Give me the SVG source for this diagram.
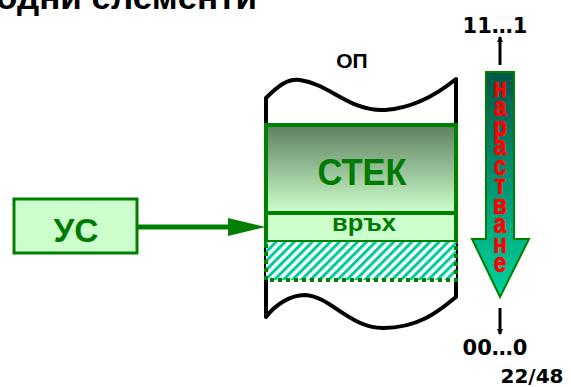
<svg xmlns="http://www.w3.org/2000/svg" width="571" height="387" viewBox="0 0 571 387">
<style>
.lbl{font-family:"DejaVu Sans",Verdana,sans-serif;font-weight:bold;fill:#000}
.gt{font-family:"Liberation Sans",Arial,sans-serif;font-weight:bold;fill:#007a00;text-anchor:middle}
.rt{font-family:"Liberation Sans",Arial,sans-serif;font-weight:bold;fill:#ff0000;stroke:#ff0000;stroke-width:0.7;text-anchor:middle;font-size:28px}
.gbox{stroke:#008000;stroke-width:4}
</style>
<defs>
<linearGradient id="stackGrad" x1="0" y1="0" x2="0" y2="1">
<stop offset="0" stop-color="#5f7f5f"/>
<stop offset="1" stop-color="#ccffcc"/>
</linearGradient>
<linearGradient id="arrGrad" x1="0" y1="0" x2="0" y2="1">
<stop offset="0" stop-color="#00574a"/>
<stop offset="1" stop-color="#00d49c"/>
</linearGradient>
<pattern id="hatch" patternUnits="userSpaceOnUse" width="6.4" height="6.4" patternTransform="rotate(45)">
<rect width="6.4" height="6.4" fill="#fff"/>
<rect width="3" height="6.4" fill="#00cc99"/>
</pattern>
<marker id="blk" markerWidth="6" markerHeight="6" refX="5" refY="3" orient="auto" markerUnits="userSpaceOnUse">
<path d="M0,0 L6,3 L0,6 Z" fill="#000"/>
</marker>
</defs>
<rect width="571" height="387" fill="#fff"/>
<text x="-4" y="9" font-family="Liberation Sans,Arial,sans-serif" font-weight="bold" font-size="35" fill="#000">одни елементи</text>

<g id="memory">
<path d="M266,317 L266,98 C278,86 288,78 300,80 C330,84 350,112 385,110 C415,108 440,92 456,79 L456,297 C440,310 420,328 383,328 C350,328 330,296 305,295 C290,295 275,305 266,317 Z" fill="#fff" stroke="#000" stroke-width="4" stroke-linejoin="round"/>
<text x="352" y="68" font-family="Liberation Sans,Arial,sans-serif" font-weight="bold" font-size="21" text-anchor="middle" fill="#000">ОП</text>
</g>

<g id="stack">
<rect class="gbox" x="266" y="125" width="190" height="88" fill="url(#stackGrad)"/>
<text class="gt" x="362" y="185" font-size="37" textLength="89" lengthAdjust="spacingAndGlyphs">СТЕК</text>
</g>

<g id="top">
<rect class="gbox" x="266" y="213" width="190" height="29" fill="#ccffcc"/>
<text class="gt" x="364" y="231" font-size="23" textLength="64" lengthAdjust="spacingAndGlyphs">връх</text>
</g>

<g id="free">
<rect x="266" y="242" width="190" height="38" fill="url(#hatch)"/>
<path d="M266,244 L266,280 L456,280 L456,244" fill="none" stroke="#008000" stroke-width="4" stroke-dasharray="4 4"/>
</g>

<g id="us">
<rect x="14" y="199" width="123" height="54" fill="#ccffcc" stroke="#008000" stroke-width="3"/>
<text class="gt" x="76" y="242" font-size="33" textLength="45" lengthAdjust="spacingAndGlyphs">УС</text>
</g>

<g id="growth">
<path d="M486,72 L514,72 L514,239 L529,239 L500,297 L472,239 L486,239 Z" fill="url(#arrGrad)" stroke="#008000" stroke-width="2"/>
<g transform="translate(500,0) scale(0.8,1)">
<text class="rt" x="0" y="97">н</text>
<text class="rt" x="0" y="116.5">а</text>
<text class="rt" x="0" y="136">р</text>
<text class="rt" x="0" y="155.5">а</text>
<text class="rt" x="0" y="175">с</text>
<text class="rt" x="0" y="194.5">т</text>
<text class="rt" x="0" y="214">в</text>
<text class="rt" x="0" y="233.5">а</text>
<text class="rt" x="0" y="253">н</text>
<text class="rt" x="0" y="272.5">е</text>
</g>
</g>

<g id="labels">
<text class="lbl" x="495" y="33" font-size="21" text-anchor="middle">11…1</text>
<text class="lbl" x="495" y="355" font-size="21" text-anchor="middle">00…0</text>
<text class="lbl" x="532" y="383" font-size="20" text-anchor="middle">22/48</text>
</g>

<g id="connectors">
<line x1="137" y1="227" x2="230" y2="227" stroke="#008000" stroke-width="5"/>
<polygon points="228,218 266,227 228,236" fill="#008000"/>
<line x1="500" y1="65" x2="500" y2="37" stroke="#000" stroke-width="3" marker-end="url(#blk)"/>
<line x1="500" y1="308" x2="500" y2="334" stroke="#000" stroke-width="3" marker-end="url(#blk)"/>
</g>
</svg>
